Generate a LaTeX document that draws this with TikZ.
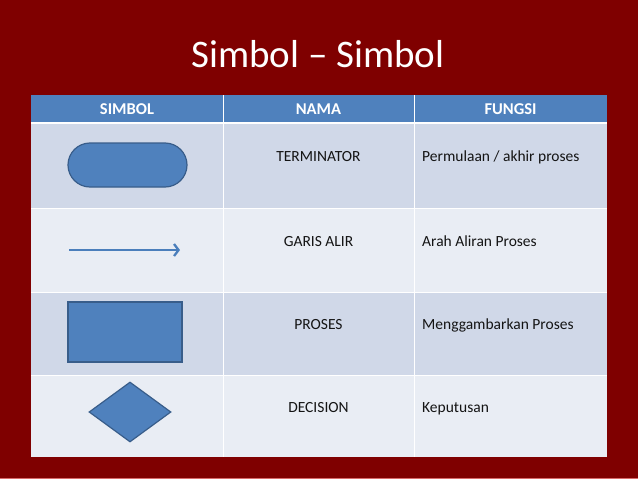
\documentclass[tikz,border=0pt]{standalone}
\usepackage{fontspec}
\setmainfont{Carlito}
\usetikzlibrary{shapes.geometric,arrows.meta}
\definecolor{bgred}{HTML}{7F0000}
\definecolor{hdrblue}{HTML}{4F81BD}
\definecolor{rowdark}{HTML}{D0D8E8}
\definecolor{rowlight}{HTML}{E9EDF4}
\definecolor{shapeline}{HTML}{385D8A}
\definecolor{arrowblue}{HTML}{4A7EBB}
\definecolor{pinkline}{HTML}{D86A6A}
\definecolor{txt}{HTML}{141414}
\tikzset{
  hdrtext/.style={anchor=base,text=white,font=\fontsize{16.5}{19}\selectfont\bfseries,inner sep=0pt},
  celltext/.style={anchor=base,text=txt,font=\fontsize{15.5}{18}\selectfont,inner sep=0pt},
  funtext/.style={celltext,anchor=base west},
  symshape/.style={draw=shapeline,fill=hdrblue,line width=1.2pt,inner sep=0pt},
  gridline/.style={draw=white,line width=1pt},
}
\begin{document}
\begin{tikzpicture}[x=1pt,y=-1pt]
\useasboundingbox (0,0) rectangle (638,479);
\fill[bgred] (0,0) rectangle (638,479);
\draw[pinkline,line width=1pt] (0,478) -- (638,478);
% title
\node[anchor=base,text=white,font=\fontsize{39}{45}\selectfont,inner sep=0pt] (title) at (318,67) {Simbol – Simbol};
% table backgrounds
\fill[hdrblue] (31,95) rectangle (607,123);
\fill[rowdark] (31,123) rectangle (607,208);
\fill[rowlight] (31,208) rectangle (607,292);
\fill[rowdark] (31,292) rectangle (607,375);
\fill[rowlight] (31,375) rectangle (607,457);
% grid lines
\draw[gridline] (223,95) -- (223,457);
\draw[gridline] (414,95) -- (414,457);
\draw[gridline,line width=2pt] (31,123) -- (607,123);
\draw[gridline] (31,208) -- (607,208);
\draw[gridline] (31,292) -- (607,292);
\draw[gridline] (31,375) -- (607,375);
% header
\node[hdrtext] (hsimbol) at (127,114) {SIMBOL};
\node[hdrtext] (hnama) at (318.5,114) {NAMA};
\node[hdrtext] (hfungsi) at (510.5,114) {FUNGSI};
% row 1
\node[symshape,minimum width=119pt,minimum height=44pt,rounded corners=22pt] (term) at (127.5,165) {};
\node[celltext] (n1) at (318.5,161) {TERMINATOR};
\node[funtext] (f1) at (422,161) {Permulaan / akhir proses};
% row 2
\coordinate (astart) at (69,250);
\coordinate (aend) at (180,250);
\draw[arrowblue,line width=2.3pt,-{Straight Barb[length=4.5pt,width=12pt,line width=2.3pt]}] (astart) -- (aend);
\node[celltext] (n2) at (318.5,246) {GARIS ALIR};
\node[funtext] (f2) at (422,246) {Arah Aliran Proses};
% row 3
\node[symshape,minimum width=114pt,minimum height=60pt] (proc) at (125,332) {};
\node[celltext] (n3) at (318.5,329) {PROSES};
\node[funtext] (f3) at (422,329) {Menggambarkan Proses};
% row 4
\node[symshape,diamond,aspect=1.37,minimum width=82pt,minimum height=60pt] (dec) at (130,412) {};
\node[celltext] (n4) at (318.5,412) {DECISION};
\node[funtext] (f4) at (422,412) {Keputusan};
\end{tikzpicture}
\end{document}
